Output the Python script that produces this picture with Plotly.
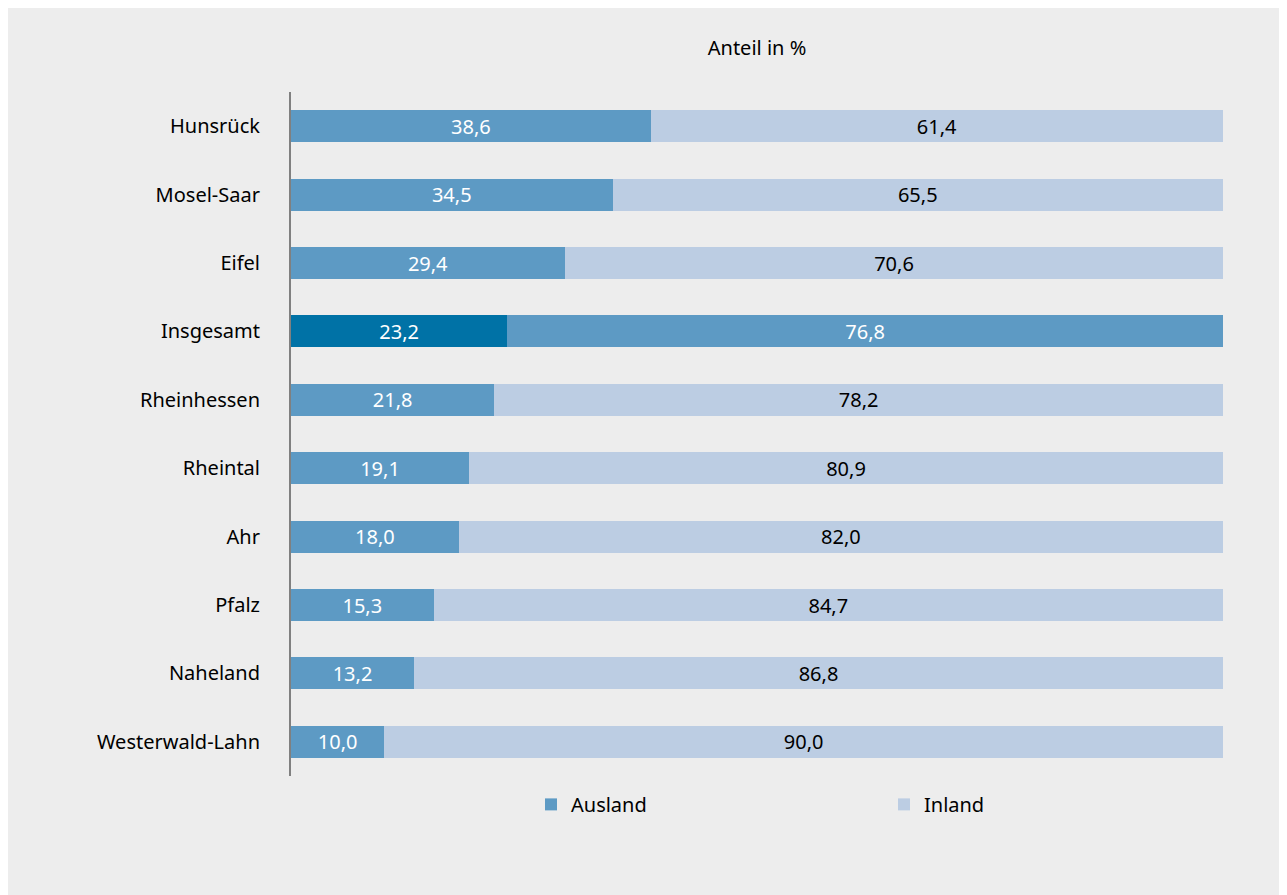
import plotly.graph_objects as go

regions = ["Hunsrück", "Mosel-Saar", "Eifel", "Insgesamt", "Rheinhessen",
           "Rheintal", "Ahr", "Pfalz", "Naheland", "Westerwald-Lahn"]
ausland = [38.6, 34.5, 29.4, 23.2, 21.8, 19.1, 18.0, 15.3, 13.2, 10.0]
inland = [61.4, 65.5, 70.6, 76.8, 78.2, 80.9, 82.0, 84.7, 86.8, 90.0]

C_AUS = "#5d9ac4"
C_IN = "#bccde3"
C_TOTAL = "#0072a6"

aus_colors = [C_TOTAL if r == "Insgesamt" else C_AUS for r in regions]
in_colors = [C_AUS if r == "Insgesamt" else C_IN for r in regions]
in_text = ["white" if r == "Insgesamt" else "black" for r in regions]

FONT = "Noto Sans"
FS = 20

fig = go.Figure()

fig.add_trace(go.Bar(
    y=regions, x=ausland, orientation="h", name="Ausland",
    marker=dict(color=aus_colors, line=dict(width=0)),
    texttemplate="%{x:.1f}", textposition="inside", insidetextanchor="middle",
    textangle=0, constraintext="none",
    insidetextfont=dict(color="white", size=FS, family=FONT),
))
fig.add_trace(go.Bar(
    y=regions, x=inland, orientation="h", name="Inland",
    marker=dict(color=in_colors, line=dict(width=0)),
    texttemplate="%{x:.1f}", textposition="inside", insidetextanchor="middle",
    textangle=0, constraintext="none",
    insidetextfont=dict(color=in_text, size=FS, family=FONT),
))

fig.update_layout(
    width=1287, height=895,
    margin=dict(l=283, r=72, t=84, b=127),
    barmode="stack", bargap=0.53,
    separators=",.",
    paper_bgcolor="#ededed", plot_bgcolor="#ededed",
    font=dict(family=FONT, size=FS, color="black"),
    title=dict(text="Anteil in %", x=0.5, xref="paper", xanchor="center",
               y=1 - 40 / 895, yanchor="middle",
               font=dict(family=FONT, size=FS, color="black")),
    xaxis=dict(range=[0, 100], visible=False, fixedrange=True),
    yaxis=dict(autorange="reversed", showline=True, linecolor="#808080",
               linewidth=2, ticks="", showgrid=False, zeroline=False,
               ticklabelstandoff=25, tickfont=dict(size=FS, family=FONT)),
    legend=dict(orientation="h", traceorder="normal",
                x=0.2575, y=-0.013, xanchor="left", yanchor="top",
                entrywidth=308, entrywidthmode="pixels",
                font=dict(size=FS, family=FONT), bgcolor="rgba(0,0,0,0)"),
    showlegend=True,
)

fig.write_html("out.html")
